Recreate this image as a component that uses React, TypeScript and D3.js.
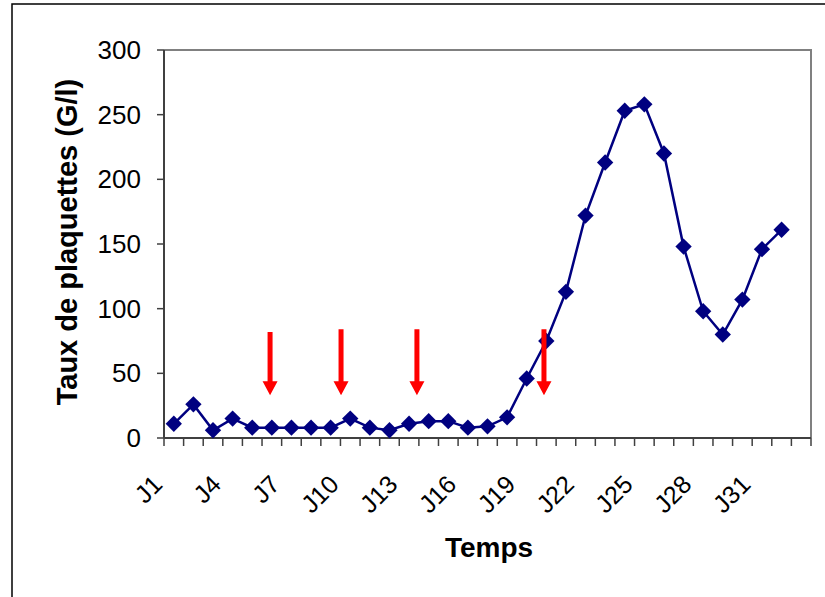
import React from "react";
import * as d3 from "d3";

// Days of follow-up and platelet counts (G/l)
const days: string[] = Array.from({ length: 33 }, (_, i) => `J${i + 1}`);
const platelets: number[] = [
  11, 26, 6, 15, 8, 8, 8, 8, 8, 15, 8, 6, 11, 13, 13, 8, 9, 16, 46, 75, 113,
  172, 213, 253, 258, 220, 148, 98, 80, 107, 146, 161,
];
const yTicks: number[] = [0, 50, 100, 150, 200, 250, 300];
// Treatment markers: position along the day axis (1 = J1), arrow top and tip values
const arrowDays: number[] = [5.91, 9.53, 13.4, 19.88];
const arrowTops: number[] = [82, 84, 84, 84];
const arrowTip = 33;

const W = 825;
const H = 597;
const left = 164;
const right = 811;
const top = 50;
const bottom = 438;
const font = "'Liberation Sans', Arial, Helvetica, sans-serif";

export default function App() {
  const x = d3.scaleBand<string>().domain(days).range([left, right]).padding(0);
  const xLin = d3
    .scaleLinear()
    .domain([0.5, days.length + 0.5])
    .range([left, right]);
  const y = d3.scaleLinear().domain([0, 300]).range([bottom, top]);
  const cx = (i: number) => (x(days[i]) as number) + x.bandwidth() / 2;

  const line = d3
    .line<number>()
    .x((_, i) => cx(i))
    .y((d) => y(d));

  const diamond = d3.symbol().type(d3.symbolDiamond2).size(170)();

  const boundaries = d3.range(days.length + 1).map((i) => left + i * x.bandwidth());

  return (
    <svg
      width={W}
      height={H}
      style={{ position: "absolute", left: 0, top: 0, background: "#fff" }}
    >
      {/* outer frame */}
      <rect x={12} y={4} width={W} height={H} fill="#fff" stroke="#000" strokeWidth={1.5} />

      {/* plot frame (top and right) */}
      <path
        d={`M${left},${top}H${right}V${bottom}`}
        fill="none"
        stroke="#808080"
        strokeWidth={2}
      />

      {/* y axis */}
      <line x1={left} x2={left} y1={top} y2={bottom} stroke="#404040" strokeWidth={2} />
      {yTicks.map((t) => (
        <g key={t}>
          <line x1={left - 7} x2={left} y1={y(t)} y2={y(t)} stroke="#404040" strokeWidth={1.5} />
          <text
            x={141}
            y={y(t)}
            textAnchor="end"
            dominantBaseline="central"
            fontFamily={font}
            fontSize={26}
            fill="#000"
          >
            {t}
          </text>
        </g>
      ))}

      {/* x axis */}
      <line x1={left} x2={right} y1={bottom} y2={bottom} stroke="#404040" strokeWidth={2} />
      {boundaries.map((bx, i) => (
        <line key={i} x1={bx} x2={bx} y1={bottom} y2={bottom + 8} stroke="#404040" strokeWidth={1.5} />
      ))}
      {days.map((d, i) =>
        i % 3 === 0 ? (
          <text
            key={d}
            transform={`translate(${cx(i) - 10},${486}) rotate(-45)`}
            textAnchor="end"
            fontFamily={font}
            fontSize={25}
            fill="#000"
          >
            {d}
          </text>
        ) : null
      )}

      {/* data line and markers */}
      <path d={line(platelets) || ""} fill="none" stroke="#000080" strokeWidth={2.5} />
      {platelets.map((v, i) => (
        <path key={i} d={diamond || ""} transform={`translate(${cx(i)},${y(v)})`} fill="#000080" />
      ))}

      {/* treatment arrows */}
      {arrowDays.map((ad, i) => {
        const ax = xLin(ad);
        const yTop = y(arrowTops[i]);
        const yTip = y(arrowTip);
        const headH = 14;
        const headW = 15;
        const shaftW = 5;
        const yHead = yTip - headH;
        return (
          <path
            key={i}
            d={`M${ax - shaftW / 2},${yTop}H${ax + shaftW / 2}V${yHead}H${ax + headW / 2}L${ax},${yTip}L${ax - headW / 2},${yHead}H${ax - shaftW / 2}Z`}
            fill="#ff0000"
          />
        );
      })}

      {/* axis titles */}
      <text
        transform={`translate(77,${242}) rotate(-90)`}
        textAnchor="middle"
        fontFamily={font}
        fontWeight="bold"
        fontSize={29}
        fill="#000"
      >
        Taux de plaquettes (G/l)
      </text>
      <text
        x={489}
        y={557}
        textAnchor="middle"
        fontFamily={font}
        fontWeight="bold"
        fontSize={28}
        fill="#000"
      >
        Temps
      </text>
    </svg>
  );
}
